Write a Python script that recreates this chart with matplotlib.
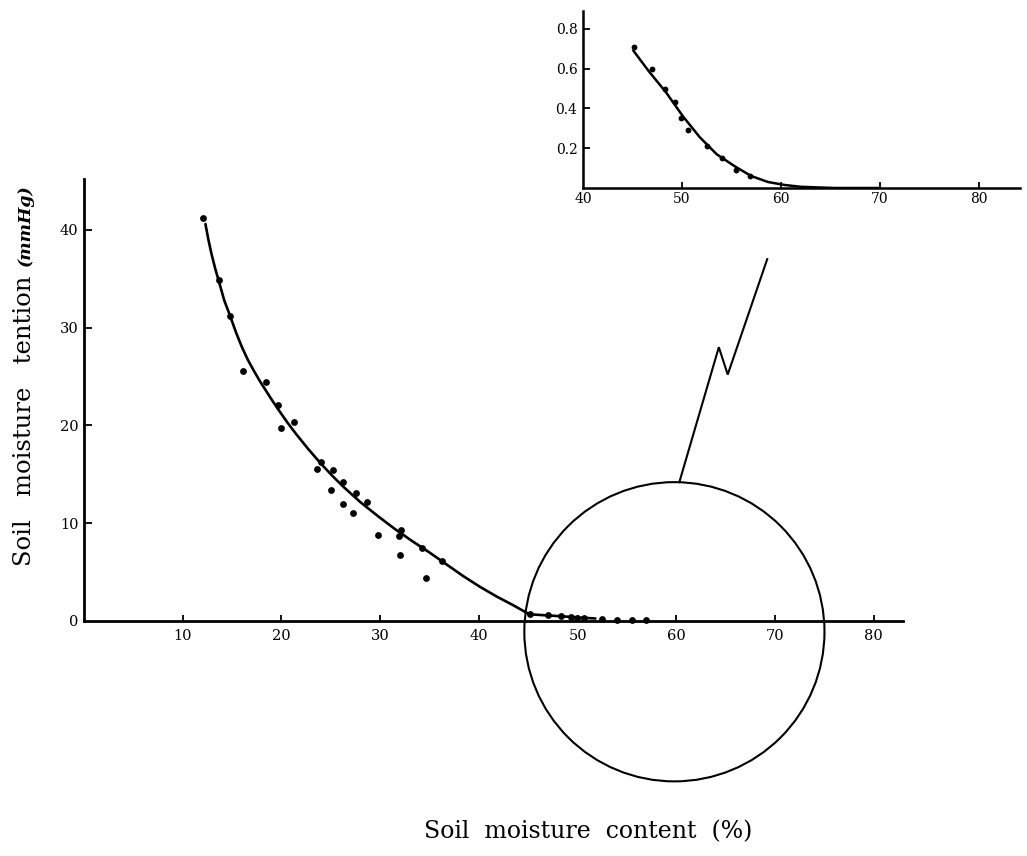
import matplotlib
matplotlib.use("Agg")
import matplotlib.pyplot as plt
from matplotlib.patches import Ellipse
import numpy as np

# Soil moisture content (%) and tension (mmHg) of the drier samples
content_high = [12.1, 13.7, 14.8, 16.1, 18.4, 19.6, 20.0, 21.3, 23.6, 24.0, 25.2, 25.0,
                26.2, 26.2, 27.2, 27.6, 28.7, 29.8, 31.9, 32.1, 32.0, 34.2, 34.6, 36.3]
tension_high = [41.2, 34.9, 31.2, 25.6, 24.4, 22.1, 19.7, 20.3, 15.5, 16.3, 15.4, 13.4,
                14.2, 12.0, 11.0, 13.1, 12.2, 8.8, 8.7, 9.3, 6.7, 7.5, 4.4, 6.1]

# Wet samples with very low tension (also shown enlarged in the inset)
content_low = [45.2, 47.0, 48.3, 49.3, 49.9, 50.6, 52.5, 54.0, 55.5, 56.9]
tension_low = [0.71, 0.60, 0.50, 0.43, 0.35, 0.29, 0.21, 0.15, 0.09, 0.06]

# Fitted moisture characteristic curve
curve_content = [12.3, 12.6, 12.9, 13.3, 13.7, 14.2, 14.8, 15.4, 16.0, 16.6, 17.2, 17.8,
                 18.4, 19.0, 19.7, 20.6, 21.5, 22.7, 23.9, 25.1, 26.3, 28.0, 29.8, 31.5,
                 33.2, 35.0, 36.7, 38.4, 40.1, 41.8, 43.5, 45.1, 46.6, 48.4, 50.1, 51.8,
                 53.5, 55.3, 57.0, 58.7, 60.4, 62.0, 65.4, 70.0]
curve_tension = [40.6, 39.0, 37.6, 36.0, 34.6, 32.8, 31.2, 29.5, 28.0, 26.7, 25.6, 24.55,
                 23.6, 22.65, 21.6, 20.3, 19.1, 17.6, 16.2, 14.9, 13.7, 12.15, 10.7, 9.4,
                 8.2, 7.0, 5.8, 4.6, 3.5, 2.5, 1.6, 0.69, 0.59, 0.48, 0.36, 0.255,
                 0.17, 0.11, 0.06, 0.03, 0.015, 0.006, 0.0, 0.0]

main_xticks = [10, 20, 30, 40, 50, 60, 70, 80]
main_yticks = [0, 10, 20, 30, 40]
inset_xticks = [40, 50, 60, 70, 80]
inset_yticks = [0.2, 0.4, 0.6, 0.8]

SERIF = "DejaVu Serif"
plt.rcParams["font.family"] = SERIF

W, H = 1027, 856
fig = plt.figure(figsize=(W / 100, H / 100), dpi=100)


def frac(x0, y0, x1, y1):
    """Figure-fraction rectangle from pixel corners (top-left origin)."""
    return [x0 / W, (H - y1) / H, (x1 - x0) / W, (y1 - y0) / H]


def style_axes(ax, lw):
    for side in ("top", "right"):
        ax.spines[side].set_visible(False)
    for side in ("left", "bottom"):
        ax.spines[side].set_linewidth(lw)
        ax.spines[side].set_color("black")
    ax.set_facecolor("none")


# ---- main panel ----
ax = fig.add_axes(frac(84, 179, 84 + 83 * 9.873, 621))
ax.set_xlim(0, 83)
ax.set_ylim(0, 45.2)
style_axes(ax, 2.0)

n_main = sum(1 for c in curve_content if c <= 52)
ax.plot(curve_content[:n_main], curve_tension[:n_main], color="black", lw=1.9,
        solid_capstyle="round", solid_joinstyle="round", clip_on=False, zorder=3)
ax.plot(content_high, tension_high, "o", color="black", ms=4.9, mew=0,
        clip_on=False, zorder=4)
ax.plot(content_low, tension_low, "o", color="black", ms=4.9, mew=0,
        clip_on=False, zorder=4)

ax.set_xticks(main_xticks)
ax.set_xticklabels([str(v) for v in main_xticks])
ax.set_yticks(main_yticks)
ax.set_yticklabels([str(v) for v in main_yticks])
ax.tick_params(axis="x", direction="in", length=4, width=1.3, pad=6,
               labelsize=10.5, colors="black")
ax.tick_params(axis="y", direction="in", length=6, width=1.3, pad=4,
               labelsize=10.5, colors="black")
# origin tick on y only carries a label
ax.yaxis.get_major_ticks()[0].tick1line.set_visible(False)

# magnifier circle around the low-tension samples
circle_center = (59.8, -1.1)
circle = Ellipse(circle_center, width=30.4, height=30.6, fill=False,
                 edgecolor="black", lw=1.5, clip_on=False, zorder=2)
ax.add_patch(circle)

# zig-zag leader from the top of the circle up towards the inset
leader_x = [60.3, 64.3, 65.2, 69.2]
leader_y = [14.2, 28.0, 25.2, 37.0]
ax.plot(leader_x, leader_y, color="black", lw=1.5, clip_on=False,
        solid_joinstyle="miter", zorder=2)

# ---- inset panel ----
axi = fig.add_axes(frac(583, 11, 583 + 44.1 * 9.9, 188))
axi.set_xlim(40, 84.1)
axi.set_ylim(0, 0.89)
style_axes(axi, 1.8)

mask = np.array(curve_content) >= 45
axi.plot(np.array(curve_content)[mask], np.array(curve_tension)[mask],
         color="black", lw=1.8, solid_joinstyle="round", zorder=3)
axi.plot(content_low, tension_low, "o", color="black", ms=4.2, mew=0, zorder=4)

axi.set_xticks(inset_xticks)
axi.set_xticklabels([str(v) for v in inset_xticks])
axi.set_yticks(inset_yticks)
axi.set_yticklabels([f"{v:.1f}" for v in inset_yticks])
axi.tick_params(axis="x", direction="in", length=4, width=1.3, pad=3,
                labelsize=10, colors="black")
axi.tick_params(axis="y", direction="in", length=5, width=1.3, pad=4,
                labelsize=10, colors="black")
axi.xaxis.get_major_ticks()[0].tick1line.set_visible(False)

# ---- axis titles ----
fig.text(588 / W, 1 - 832 / H, "Soil  moisture  content  (%)", ha="center",
         va="center", fontsize=17, family=SERIF)
fig.text(25 / W, 1 - 566 / H, "Soil   moisture   tention", rotation=90,
         ha="center", va="bottom", fontsize=17.5, family=SERIF)
fig.text(25 / W, 1 - 184 / H, "(mmHg)", rotation=90, ha="center", va="top",
         fontsize=12.5, family=SERIF, fontstyle="italic", fontweight="bold")

fig.savefig("out.png", dpi=100, facecolor="white")
